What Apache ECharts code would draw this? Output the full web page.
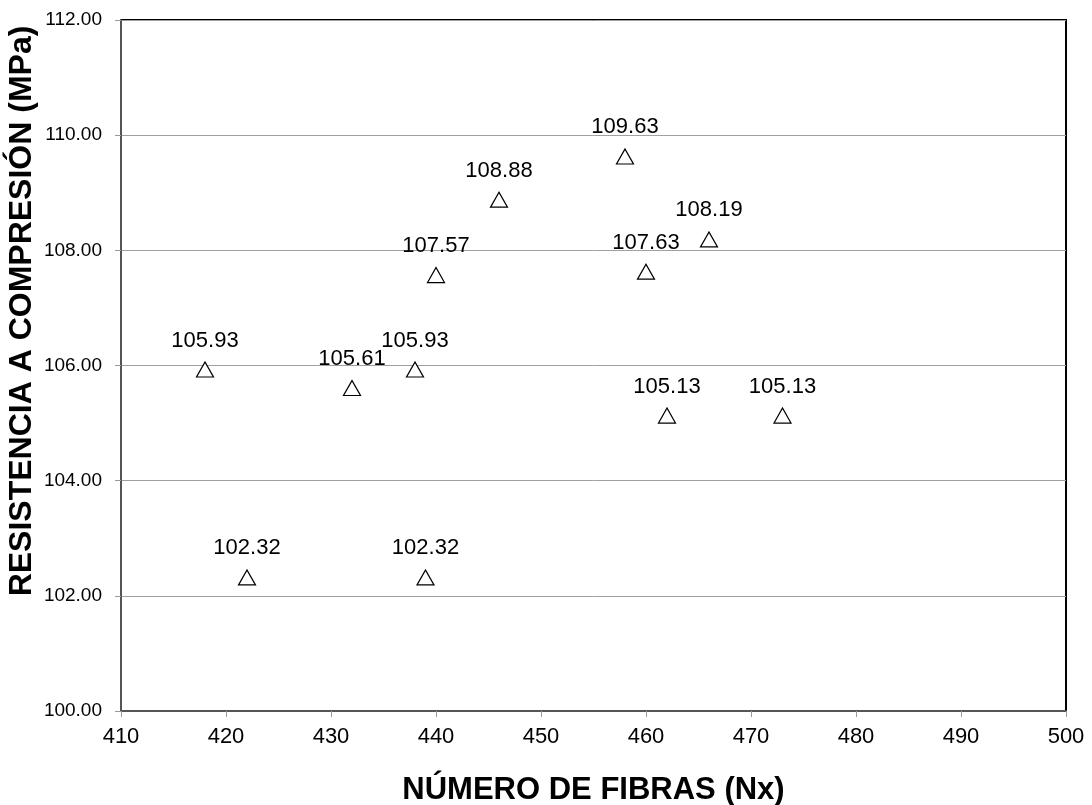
<!DOCTYPE html>
<html>
<head>
<meta charset="utf-8">
<script src="https://cdn.jsdelivr.net/npm/echarts@6/dist/echarts.min.js"></script>
<style>
  html, body { margin: 0; padding: 0; background: #fff; }
  #chart { width: 1092px; height: 805px; }
</style>
</head>
<body>
<div id="chart"></div>
<script>
// Number of fibres (Nx) and the compressive strength (MPa) measured for each
const fibras = [418, 422, 432, 438, 439, 440, 446, 458, 460, 462, 466, 473];
const resistencia = [105.93, 102.32, 105.61, 105.93, 102.32, 107.57, 108.88, 109.63, 107.63, 105.13, 108.19, 105.13];

const xTitle = 'NÚMERO DE FIBRAS (Nx)';
const yTitle = 'RESISTENCIA A COMPRESIÓN (MPa)';

const puntos = fibras.map((x, i) => [x, resistencia[i]]);

const chart = echarts.init(document.getElementById('chart'), null, { renderer: 'canvas' });
const font = 'Liberation Sans, Arial, sans-serif';

chart.setOption({
  backgroundColor: '#ffffff',
  animation: false,
  grid: {
    left: 121, top: 20, right: 26, bottom: 94,
    outerBoundsMode: 'none', containLabel: false,
    show: true, borderColor: '#000', borderWidth: 2, backgroundColor: 'transparent'
  },
  // vertical axis title, set a little above the plot's middle
  graphic: [{
    type: 'text',
    x: 22, y: 311,
    rotation: Math.PI / 2,
    style: {
      text: yTitle,
      fontFamily: font, fontWeight: 'bold', fontSize: 32, fill: '#000',
      textAlign: 'center', textVerticalAlign: 'middle'
    }
  }],
  xAxis: {
    type: 'value', min: 410, max: 500, interval: 10,
    name: xTitle, nameLocation: 'middle', nameGap: 64,
    nameTextStyle: { fontFamily: font, fontWeight: 'bold', fontSize: 31, color: '#000' },
    axisLine: { show: true, onZero: false, lineStyle: { color: '#555', width: 2 } },
    axisTick: { show: true, length: 6, lineStyle: { color: '#999' } },
    axisLabel: { fontFamily: font, fontSize: 22, color: '#000', margin: 15 },
    splitLine: { show: false }
  },
  yAxis: {
    type: 'value', min: 100, max: 112, interval: 2,
    axisLine: { show: true, onZero: false, lineStyle: { color: '#555', width: 2 } },
    axisTick: { show: true, length: 6, lineStyle: { color: '#999' } },
    axisLabel: {
      fontFamily: font, fontSize: 19, color: '#000', margin: 19,
      formatter: v => v.toFixed(2)
    },
    splitLine: { show: true, lineStyle: { color: '#a0a0a0', width: 1 } }
  },
  series: [{
    type: 'scatter',
    data: puntos,
    symbol: 'triangle',
    symbolSize: [17, 15],
    itemStyle: { color: '#fff', borderColor: '#000', borderWidth: 1.2, opacity: 1 },
    label: {
      show: true, position: 'top', distance: 10,
      fontFamily: font, fontSize: 22, color: '#000', opacity: 1,
      formatter: p => p.value[1].toFixed(2)
    },
    z: 5
  }]
});
</script>
</body>
</html>
